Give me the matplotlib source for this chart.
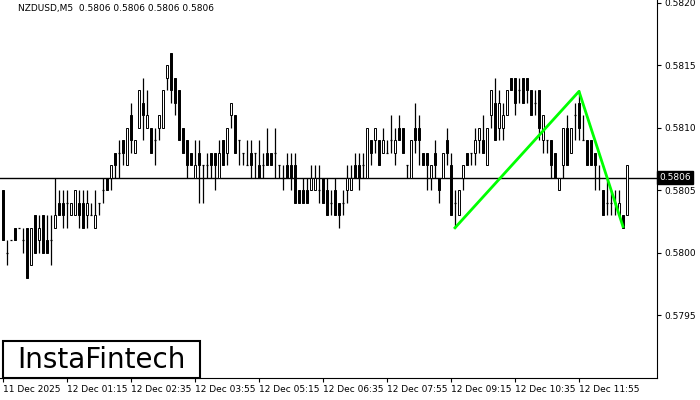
import matplotlib
matplotlib.use("Agg")
import matplotlib.pyplot as plt
from matplotlib.patches import Rectangle

# prices in pips relative to 0.5806
BASE = 0.5806
PIP = 0.0001
opens = [-1, -6, -5, -4, -4, -5, -4, -7, -3, -5, -3, -5, -5, -4, -2, -2, -2, -3, -3, -2,
         -2, -3, -3, -4, -2, -1, 0, 0, 2, 2, 3, 1, 5, 2, 4, 6, 4, 4, 3, 4,
         4, 8, 10, 8, 7, 4, 3, 2, 0, 2, 1, 1, 2, 2, 0, 3, 2, 5, 5, 3,
         2, 1, 2, 2, 1, 1, 2, 2, 2, 1, 0, 1, 1, 1, -1, -1, -1, -1, -1, -1,
         0, -1, -2, -1, -2, -2, -1, -1, 1, 1, 1, 0, 3, 3, 3, 2, 2, 3, 2, 4,
         4, 1, 0, 4, 4, 2, 2, 0, 2, 0, 0, 3, 1, -2, -3, 0, 2, 2, 2, 3,
         3, 1, 5, 6, 4, 4, 5, 8, 8, 7, 8, 8, 7, 6, 7, 3, 3, 3, 2, -1,
         1, 4, 2, 5, 6, 3, 3, 3, 2, 0, -1, -2, -2, -2, -3, -3, -3]
closes = [-5, -6, -5, -5, -4, -5, -8, -4, -6, -4, -6, -6, -5, -3, -3, -3, -2, -2, -1, -3,
          -4, -2, -3, -3, -2, -1, -1, 1, 1, 2, 2, 4, 3, 3, 7, 5, 5, 2, 3, 5,
          7, 9, 7, 6, 3, 2, 1, 1, 1, 1, 1, 1, 1, 1, 2, 1, 4, 6, 2, 3,
          2, 1, 1, 2, 0, 1, 1, 1, 2, 1, 0, 0, 0, -2, -2, -2, -2, 0, 0, -1,
          -2, -3, -2, -3, -3, -2, 0, 0, 0, 0, 1, 4, 2, 4, 1, 3, 2, 3, 3, 3,
          2, 1, 3, 3, 3, 1, 1, 1, 1, -1, 2, 2, -3, -2, -1, 1, 1, 2, 3, 4,
          2, 4, 7, 3, 6, 5, 7, 7, 6, 7, 6, 7, 5, 6, 4, 5, 3, 1, 0, 0,
          4, 1, 4, 5, 4, 3, 1, 1, 1, 0, -3, -2, -2, -2, -2, -4, 1]
highs = [-1, -5, -5, -4, -4, -4, -4, -4, -3, -3, -3, -3, -3, 0, -1, -1, -1, -2, -1, -1,
         -1, -1, -2, -1, -2, 0, 0, 1, 2, 3, 3, 4, 6, 3, 7, 8, 7, 4, 4, 5,
         7, 9, 10, 8, 7, 4, 3, 2, 3, 3, 1, 2, 2, 2, 3, 3, 4, 6, 5, 3,
         2, 3, 3, 2, 3, 2, 4, 2, 4, 1, 1, 2, 2, 2, -1, 0, 0, 1, 1, 1,
         0, 0, -1, 0, -2, -1, 1, 1, 2, 2, 2, 4, 3, 4, 3, 4, 3, 5, 4, 5,
         4, 1, 3, 6, 5, 2, 2, 1, 3, 0, 2, 4, 2, -1, -1, 1, 2, 2, 4, 4,
         5, 4, 7, 8, 7, 6, 7, 8, 8, 8, 8, 8, 7, 7, 7, 5, 3, 3, 2, 0,
         4, 5, 4, 6, 7, 5, 3, 3, 2, 1, -1, 0, -1, -1, -1, -3, 1]
lows = [-5, -7, -5, -5, -4, -6, -8, -7, -6, -6, -6, -6, -7, -4, -3, -4, -4, -3, -3, -4,
        -4, -4, -3, -4, -3, -2, -1, -1, 0, 0, 1, 1, 2, 2, 4, 3, 4, 2, 1, 3,
        4, 7, 6, 5, 3, 2, 0, 1, 0, -2, -2, 0, 0, -1, 0, 1, 1, 4, 2, 1,
        1, 1, 0, 0, 0, 0, 1, 1, 0, 0, -1, 0, -1, -2, -2, -2, -2, -1, -1, -2,
        -2, -3, -3, -3, -4, -3, -2, -1, 0, -1, 0, 0, 1, 2, 1, 2, 2, 2, 1, 3,
        2, 0, 0, 2, 1, 1, -1, -1, 0, -2, 0, 1, -3, -4, -3, -1, 1, 1, 1, 2,
        2, 1, 4, 3, 3, 3, 5, 7, 5, 6, 6, 6, 5, 5, 3, 2, 2, 0, 0, -1,
        0, 1, 2, 3, 3, 3, 1, 1, -1, -1, -3, -3, -3, -3, -3, -4, -3]

pattern_idx = [113, 144, 155]
pattern_price = [0.58020, 0.58129, 0.58021]

ytick_vals = [0.5795, 0.5800, 0.5805, 0.5810, 0.5815, 0.5820]
xtick_idx = [0, 16, 32, 48, 64, 80, 96, 112, 128, 144]
xtick_labels = ["11 Dec 2025", "12 Dec 01:15", "12 Dec 02:35", "12 Dec 03:55", "12 Dec 05:15",
                "12 Dec 06:35", "12 Dec 07:55", "12 Dec 09:15", "12 Dec 10:35", "12 Dec 11:55"]

fig = plt.figure(figsize=(7, 4), dpi=100)
ax = fig.add_axes([0, 22 / 400, 657 / 700, 378 / 400])
ax.set_xlim(-0.75, 163.5)
ax.set_ylim(0.57900, 0.58202)

for i in range(len(opens)):
    o = BASE + opens[i] * PIP
    c = BASE + closes[i] * PIP
    h = BASE + highs[i] * PIP
    l = BASE + lows[i] * PIP
    ax.vlines(i, l, h, color="black", linewidth=0.9)
    if o == c:
        ax.hlines(o, i - 0.35, i + 0.35, color="black", linewidth=0.9)
    else:
        face = "white" if c > o else "black"
        ax.add_patch(Rectangle((i - 0.3, min(o, c)), 0.6, abs(c - o),
                               facecolor=face, edgecolor="black", linewidth=0.7, zorder=3))

ax.axhline(0.5806, color="black", linewidth=1, zorder=1)
ax.plot(pattern_idx, pattern_price, color="#00ff00", linewidth=2, zorder=4)

ax.yaxis.tick_right()
ax.set_yticks(ytick_vals)
ax.set_yticklabels(["%.4f" % v for v in ytick_vals], fontsize=6.5)
ax.set_xticks(xtick_idx)
ax.set_xticklabels(xtick_labels, fontsize=6.5, ha="left")
ax.tick_params(length=3, width=0.8, pad=2)
for s in ["top", "left"]:
    ax.spines[s].set_visible(False)

ax.text(1.003, (0.5806 - 0.57900) / (0.58202 - 0.57900), "0.5806", transform=ax.transAxes,
        fontsize=6.5, color="white", va="center", ha="left",
        bbox=dict(facecolor="black", edgecolor="black", pad=1.5))
ax.text(18 / 657, 1 - 8 / 378, "NZDUSD,M5  0.5806 0.5806 0.5806 0.5806", transform=ax.transAxes,
        fontsize=6.5, va="center", ha="left")

fig.patches.append(Rectangle((3 / 700, 22 / 400), 197 / 700, 37 / 400, transform=fig.transFigure,
                             facecolor="white", edgecolor="black", linewidth=1.5))
fig.text(101 / 700, 40 / 400, "InstaFintech", fontsize=20, ha="center", va="center")

fig.savefig("out.png")
